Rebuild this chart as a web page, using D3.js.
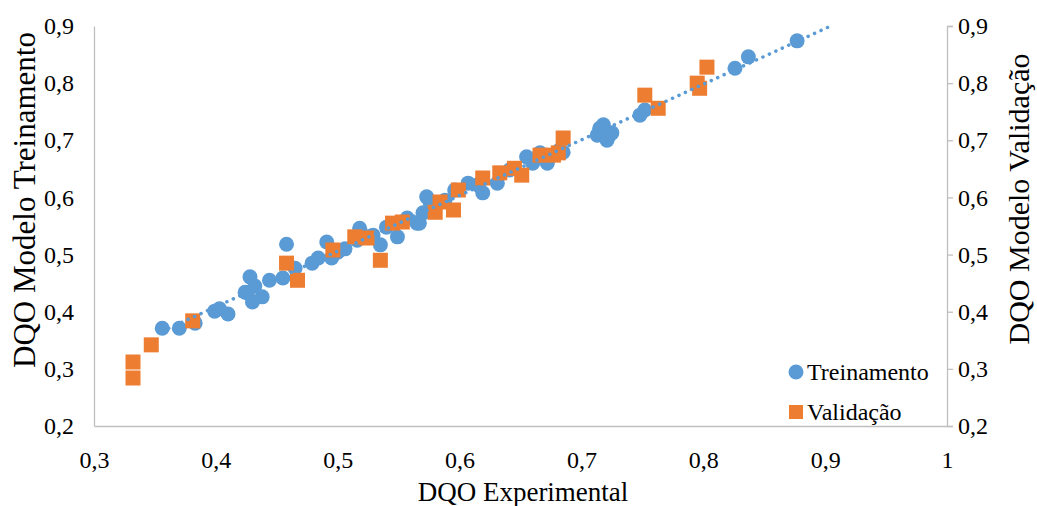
<!DOCTYPE html>
<html>
<head>
<meta charset="utf-8">
<script src="https://cdn.jsdelivr.net/npm/d3@7"></script>
<style>
  body { margin: 0; background: #fff; }
  svg text { font-family: "Liberation Serif", "DejaVu Serif", "Times New Roman", serif !important; fill: #000; }
</style>
</head>
<body>
<script>
var width = 1037,
    height = 506;

// Treinamento (experimental, modelo)
var trainX = [0.356, 0.370, 0.383, 0.399, 0.403, 0.410, 0.424, 0.428, 0.426, 0.430,
              0.438, 0.432, 0.444, 0.455, 0.458, 0.465, 0.479, 0.484, 0.491, 0.495,
              0.500, 0.506, 0.516, 0.518, 0.524, 0.529, 0.535, 0.540, 0.549, 0.557,
              0.565, 0.570, 0.576, 0.573, 0.567, 0.588, 0.596, 0.607, 0.619, 0.615,
              0.631, 0.641, 0.655, 0.660, 0.666, 0.672, 0.682, 0.685, 0.713, 0.715,
              0.718, 0.723, 0.721, 0.725, 0.748, 0.752, 0.826, 0.837, 0.877];
var trainY = [0.371, 0.371, 0.380, 0.401, 0.405, 0.396, 0.434, 0.461, 0.433, 0.417,
              0.426, 0.445, 0.455, 0.459, 0.518, 0.476, 0.485, 0.494, 0.522, 0.494,
              0.504, 0.510, 0.525, 0.546, 0.531, 0.534, 0.517, 0.548, 0.531, 0.564,
              0.555, 0.573, 0.590, 0.601, 0.555, 0.595, 0.613, 0.625, 0.608, 0.622,
              0.625, 0.648, 0.671, 0.660, 0.678, 0.660, 0.683, 0.679, 0.709, 0.721,
              0.727, 0.709, 0.700, 0.713, 0.744, 0.753, 0.826, 0.846, 0.874];

// Validação
var validX = [0.332, 0.332, 0.347, 0.381, 0.458, 0.467, 0.496, 0.514, 0.524, 0.535,
              0.545, 0.553, 0.580, 0.584, 0.595, 0.599, 0.619, 0.633, 0.645, 0.651,
              0.666, 0.677, 0.681, 0.685, 0.752, 0.763, 0.795, 0.797, 0.803];
var validY = [0.312, 0.284, 0.342, 0.384, 0.485, 0.455, 0.508, 0.531, 0.529, 0.490,
              0.555, 0.557, 0.574, 0.592, 0.578, 0.613, 0.634, 0.643, 0.651, 0.639,
              0.674, 0.674, 0.678, 0.704, 0.779, 0.756, 0.800, 0.791, 0.828];

var xTicks = [0.3, 0.4, 0.5, 0.6, 0.7, 0.8, 0.9, 1];
var yTicks = [0.2, 0.3, 0.4, 0.5, 0.6, 0.7, 0.8, 0.9];

var blue = "#5b9bd5",
    orange = "#ed7d31",
    axisColor = "#bfbfbf";

var plotL = 94, plotR = 947, plotT = 26, plotB = 426;

var x = d3.scaleLinear().domain([0.3, 1]).range([plotL, plotR]);
var y = d3.scaleLinear().domain([0.2, 0.9]).range([plotB, plotT]);

var fmt = function (d) { return String(d).replace(".", ","); };

var svg = d3.select("body").append("svg")
    .attr("width", width)
    .attr("height", height);

// bottom axis
var gx = svg.append("g")
    .attr("transform", "translate(0," + plotB + ")")
    .call(d3.axisBottom(x).tickValues(xTicks).tickSize(0).tickPadding(25).tickFormat(fmt));

// left axis
var gy = svg.append("g")
    .attr("transform", "translate(" + plotL + ",0)")
    .call(d3.axisLeft(y).tickValues(yTicks).tickSize(0).tickPadding(20).tickFormat(fmt));

// right axis
var gy2 = svg.append("g")
    .attr("transform", "translate(" + plotR + ",0)")
    .call(d3.axisRight(y).tickValues(yTicks).tickSize(6).tickPadding(5).tickFormat(fmt));

[gx, gy, gy2].forEach(function (g) {
    g.attr("font-size", null).attr("font-family", null);
    g.select(".domain").attr("stroke", axisColor).attr("stroke-width", 1.3);
    g.selectAll(".tick line").attr("stroke", axisColor).attr("stroke-width", 1.3);
    g.selectAll(".tick text")
        .style("font-size", "24px")
        .attr("fill", "#000");
});

// titles
svg.append("text")
    .attr("x", 523).attr("y", 501)
    .attr("text-anchor", "middle")
    .style("font-size", "27px")
    .text("DQO Experimental");

svg.append("text")
    .attr("transform", "translate(35,200) rotate(-90)")
    .attr("text-anchor", "middle")
    .style("font-size", "31px")
    .text("DQO Modelo Treinamento");

svg.append("text")
    .attr("transform", "translate(1029,199) rotate(-90)")
    .attr("text-anchor", "middle")
    .style("font-size", "30px")
    .text("DQO Modelo Validação");

var train = trainX.map(function (d, i) { return { x: d, y: trainY[i] }; });
var valid = validX.map(function (d, i) { return { x: d, y: validY[i] }; });

svg.append("g").selectAll("circle")
    .data(train)
    .enter().append("circle")
    .attr("cx", function (d) { return x(d.x); })
    .attr("cy", function (d) { return y(d.y); })
    .attr("r", 7.5)
    .attr("fill", blue);

var sq = 15;
svg.append("g").selectAll("rect")
    .data(valid)
    .enter().append("rect")
    .attr("x", function (d) { return x(d.x) - sq / 2; })
    .attr("y", function (d) { return y(d.y) - sq / 2; })
    .attr("width", sq)
    .attr("height", sq)
    .attr("fill", orange);

// linear trendline for training series
var mx = d3.mean(trainX), my = d3.mean(trainY);
var slope = d3.sum(train, function (d) { return (d.x - mx) * (d.y - my); }) /
            d3.sum(train, function (d) { return (d.x - mx) * (d.x - mx); });
var icpt = my - slope * mx;
var x0 = d3.min(trainX), x1 = 0.905;

svg.append("line")
    .attr("x1", x(x0)).attr("y1", y(icpt + slope * x0))
    .attr("x2", x(x1)).attr("y2", y(icpt + slope * x1))
    .attr("stroke", blue)
    .attr("stroke-width", 3.5)
    .attr("stroke-linecap", "round")
    .attr("stroke-dasharray", "0.1 7");

// legend
var legend = svg.append("g");
legend.append("circle")
    .attr("cx", 796).attr("cy", 372).attr("r", 7.5).attr("fill", blue);
legend.append("text")
    .attr("x", 807).attr("y", 380)
    .style("font-size", "24px")
    .text("Treinamento");
legend.append("rect")
    .attr("x", 789).attr("y", 405).attr("width", 14).attr("height", 14).attr("fill", orange);
legend.append("text")
    .attr("x", 807).attr("y", 420)
    .style("font-size", "24px")
    .text("Validação");
</script>
</body>
</html>
